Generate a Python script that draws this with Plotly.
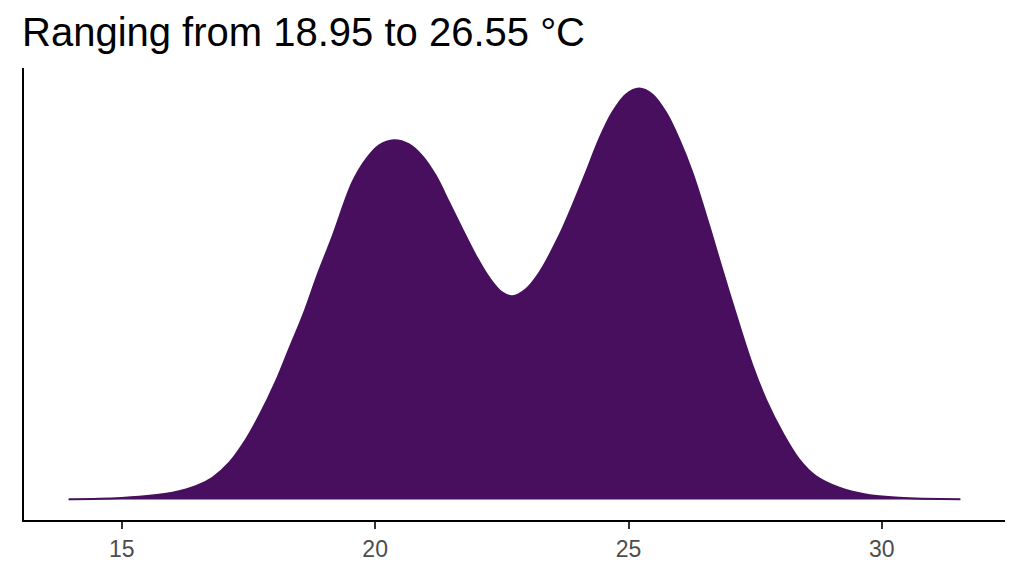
import plotly.graph_objects as go

# temperature (°C) and density
temp = [13.95, 14.55, 15.34, 16.00, 16.46, 16.79, 17.12, 17.45, 17.71, 18.04,
        18.30, 18.60, 18.86, 19.16, 19.55, 19.82, 20.08, 20.37, 20.67,
        20.93, 21.20, 21.46, 21.72, 21.99, 22.25, 22.51, 22.71, 22.97, 23.24,
        23.63, 23.89, 24.16, 24.42, 24.68, 24.95, 25.21, 25.47, 25.74, 26.00,
        26.26, 26.53, 26.79, 27.12, 27.45, 27.71, 28.04, 28.37, 28.70, 29.16,
        29.68, 30.34, 31.55]
density = [0.0001, 0.0002, 0.0009, 0.0023, 0.0045, 0.0074, 0.0125, 0.0204, 0.0284, 0.0402,
           0.0511, 0.0637, 0.0763, 0.0896, 0.1079, 0.1158, 0.1206, 0.1223, 0.1209,
           0.1169, 0.1101, 0.1011, 0.0920, 0.0829, 0.0755, 0.0704, 0.0692, 0.0715, 0.0772,
           0.0897, 0.0999, 0.1113, 0.1226, 0.1317, 0.1379, 0.1399, 0.1379, 0.1317, 0.1226,
           0.1113, 0.0967, 0.0817, 0.0630, 0.0454, 0.0341, 0.0227, 0.0136, 0.0079, 0.0040,
           0.0017, 0.0006, 0.0001]

x_ticks = [15, 20, 25, 30]
title_text = "Ranging from 18.95 to 26.55 °C"

fill_col = "#470F5E"

fig = go.Figure()
fig.add_trace(
    go.Scatter(x=temp,
               y=density,
               mode="lines",
               line=dict(color=fill_col, width=2, shape="spline", smoothing=1.0),
               fill="tozeroy",
               fillcolor=fill_col,
               showlegend=False,
               hoverinfo="skip")
)

# ggplot-style 5% expansion on both axes
xspan = max(temp) - min(temp)
xr = [min(temp) - 0.05 * xspan, max(temp) + 0.05 * xspan]
ymax = max(density)
yr = [-0.05 * ymax, 1.05 * ymax]

# page body has an 8px margin, so the figure is 8px smaller than the window
fig.update_layout(
    width=1016,
    height=568,
    paper_bgcolor="white",
    plot_bgcolor="white",
    margin=dict(l=16, r=19, t=60, b=56),
    font=dict(family="Liberation Sans, Arial, sans-serif"),
    title=dict(text=title_text,
               x=14 / 1016, xref="container", xanchor="left",
               y=1 - 24 / 568, yref="container", yanchor="middle",
               font=dict(size=40, color="black")),
)

fig.update_xaxes(range=xr,
                 tickvals=x_ticks,
                 ticktext=[str(t) for t in x_ticks],
                 showgrid=False, zeroline=False,
                 showline=True, linecolor="black", linewidth=2,
                 ticks="outside", ticklen=7, tickwidth=2, tickcolor="#333333",
                 tickfont=dict(size=23, color="#4D4D4D"))
fig.update_yaxes(range=yr,
                 showgrid=False, zeroline=False,
                 showline=True, linecolor="black", linewidth=2,
                 ticks="", showticklabels=False)

fig.write_html("out.html")
